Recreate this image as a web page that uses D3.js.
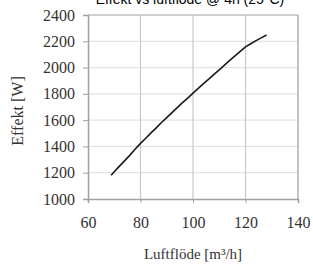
<!DOCTYPE html>
<html><head><meta charset="utf-8">
<script src="https://cdn.jsdelivr.net/npm/d3@7"></script>
<style>body{margin:0;background:#fff}svg{display:block}
.serif{font-family:"Liberation Serif","Times New Roman",serif !important;}
</style>
</head><body>
<script>
const flow = [68.8,70,72,74,76,78,80,82,84,86,88,90,92,94,96,98,100,102,104,106,108,110,112,114,116,118,120,122,124,126,128];
const power = [1180,1207,1250,1292,1334,1380,1423,1462,1503,1541,1582,1619,1657,1695,1733,1768,1805,1841,1878,1912,1948,1983,2019,2054,2089,2123,2157,2181,2205,2226,2248];
const xTicks = [60,80,100,120,140];
const yTicks = [1000,1200,1400,1600,1800,2000,2200,2400];
const title = "Effekt vs luftflöde @ 4h (25°C)";
const xLabel = "Luftflöde [m³/h]";
const yLabel = "Effekt [W]";

const W=313,H=265;
const svg=d3.select("body").append("svg").attr("width",W).attr("height",H);
const x=d3.scaleLinear().domain([60,140]).range([88,298]);
const y=d3.scaleLinear().domain([1000,2400]).range([199,15]);

svg.append("text").attr("x",190).attr("y",4).attr("text-anchor","middle")
  .style("font-family","'Liberation Sans', Arial, sans-serif").style("font-size","14px").attr("fill","#000").text(title);

svg.append("g").selectAll("line").data(yTicks.slice(1)).join("line")
  .attr("x1",x(60)).attr("x2",x(140)).attr("y1",d=>y(d)).attr("y2",d=>y(d))
  .attr("stroke","#e2e2e2").attr("stroke-width",1.2);
svg.append("g").selectAll("line").data(xTicks.slice(1)).join("line")
  .attr("y1",y(1000)).attr("y2",y(2400)).attr("x1",d=>x(d)).attr("x2",d=>x(d))
  .attr("stroke","#c8c8c8").attr("stroke-width",1.2);

const yAxis=svg.append("g").attr("transform",`translate(${x(60)},0)`)
  .call(d3.axisLeft(y).tickValues(yTicks).tickSize(5).tickPadding(8).tickFormat(d3.format("d")));
const xAxis=svg.append("g").attr("transform",`translate(0,${y(1000)})`)
  .call(d3.axisBottom(x).tickValues(xTicks).tickSize(4).tickPadding(14).tickFormat(d3.format("d")));
[yAxis,xAxis].forEach(a=>{
  a.attr("font-family",null).attr("font-size",null);
  a.select(".domain").attr("stroke","#a0a0a0").attr("stroke-width",1.5);
  a.selectAll(".tick line").attr("stroke","#a0a0a0");
  a.selectAll("text").attr("class","serif").style("font-size","16px").attr("fill","#333");
});
svg.append("line").attr("x1",x(60)).attr("x2",x(140)).attr("y1",y(2400)).attr("y2",y(2400)).attr("stroke","#b0b0b0").attr("stroke-width",1.2);
svg.append("line").attr("x1",x(140)).attr("x2",x(140)).attr("y1",y(2400)).attr("y2",y(1000)).attr("stroke","#b0b0b0").attr("stroke-width",1.2);

svg.append("path").datum(flow.map((f,i)=>[f,power[i]]))
  .attr("d",d3.line().x(d=>x(d[0])).y(d=>y(d[1])))
  .attr("fill","none").attr("stroke","#1a1a1a").attr("stroke-width",1.6);

svg.append("text").attr("class","serif").attr("transform",`translate(23,111) rotate(-90)`).attr("text-anchor","middle")
  .style("font-size","16px").attr("fill","#333").text(yLabel);
svg.append("text").attr("class","serif").attr("x",193).attr("y",259).attr("text-anchor","middle")
  .style("font-size","15px").attr("fill","#333").text(xLabel);
</script>
</body></html>
